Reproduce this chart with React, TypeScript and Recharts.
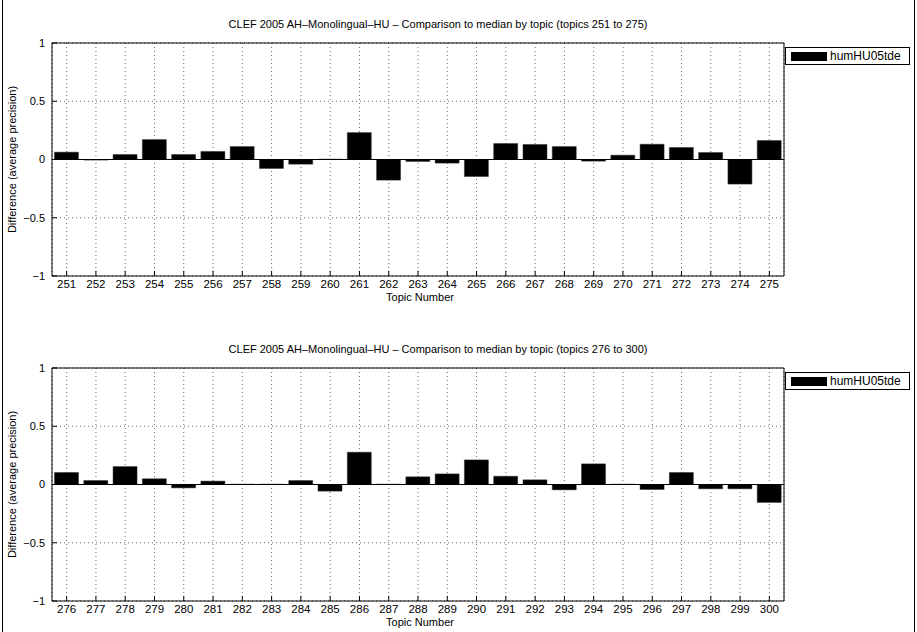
import { BarChart, Bar, XAxis, YAxis, CartesianGrid, ReferenceLine } from 'recharts'

const topicsA = ['251', '252', '253', '254', '255', '256', '257', '258', '259', '260', '261', '262', '263', '264', '265', '266', '267', '268', '269', '270', '271', '272', '273', '274', '275']
const diffA = [0.063, -0.005, 0.043, 0.171, 0.043, 0.069, 0.111, -0.077, -0.04, 0.003, 0.231, -0.177, -0.017, -0.031, -0.146, 0.137, 0.129, 0.111, -0.014, 0.037, 0.131, 0.103, 0.06, -0.211, 0.163]

const topicsB = ['276', '277', '278', '279', '280', '281', '282', '283', '284', '285', '286', '287', '288', '289', '290', '291', '292', '293', '294', '295', '296', '297', '298', '299', '300']
const diffB = [0.103, 0.034, 0.154, 0.049, -0.029, 0.029, 0.003, 0.003, 0.034, -0.057, 0.277, 0.003, 0.066, 0.091, 0.211, 0.071, 0.04, -0.046, 0.177, 0.003, -0.043, 0.103, -0.037, -0.037, -0.154]

const yTicks = [-1, -0.5, 0, 0.5, 1]
const runName = 'humHU05tde'
const titleA = 'CLEF 2005 AH\u2013Monolingual\u2013HU \u2013 Comparison to median by topic (topics 251 to 275)'
const titleB = 'CLEF 2005 AH\u2013Monolingual\u2013HU \u2013 Comparison to median by topic (topics 276 to 300)'

const FONT = '"Liberation Sans", Arial, Helvetica, sans-serif'

const fmtY = (v: number) => (v < 0 ? '\u2212' + Math.abs(v) : String(v))

interface PanelProps {
  topics: string[]
  values: number[]
  title: string
  top: number
  marginTop: number
  marginBottom: number
}

function Panel({ topics, values, title, top, marginTop, marginBottom }: PanelProps) {
  const data = topics.map((t, i) => ({ topic: t, diff: values[i] }))
  const plotTop = marginTop
  const plotBottom = 316 - marginBottom - 25
  const midY = (plotTop + plotBottom) / 2

  return (
    <div style={{ position: 'absolute', left: 0, top }}>
      <BarChart
        width={917}
        height={316}
        data={data}
        margin={{ top: marginTop, right: 133, bottom: marginBottom, left: 12 }}
        barCategoryGap="8.5%"
      >
        <CartesianGrid stroke="#000" strokeDasharray="1 3" strokeWidth={0.6} />
        <XAxis
          dataKey="topic"
          height={25}
          stroke="#000"
          tickSize={-5}
          tickMargin={9}
          interval={0}
          tick={{ fill: '#000', fontSize: 11.5, fontFamily: FONT }}
        />
        <XAxis xAxisId="t" dataKey="topic" orientation="top" height={0.01} mirror tick={false} tickSize={5} stroke="#000" interval={0} />
        <YAxis
          width={40}
          domain={[-1, 1]}
          ticks={yTicks}
          stroke="#000"
          tickSize={-5}
          tickMargin={12}
          tickFormatter={fmtY}
          tick={{ fill: '#000', fontSize: 11, fontFamily: FONT }}
        />
        <YAxis yAxisId="r" orientation="right" width={0.01} mirror domain={[-1, 1]} ticks={yTicks} tick={false} tickSize={5} stroke="#000" />
        <Bar dataKey="diff" fill="#000" stroke="#333" strokeWidth={0.5} isAnimationActive={false} />
        <ReferenceLine y={0} stroke="#000" strokeWidth={1} />
        <text x={438} y={plotTop - 15} textAnchor="middle" fontSize={11} fontFamily={FONT} fill="#000">
          {title}
        </text>
        <text
          x={16}
          y={midY}
          transform={`rotate(-90 16 ${midY})`}
          textAnchor="middle"
          fontSize={11}
          fontFamily={FONT}
          fill="#000"
        >
          Difference (average precision)
        </text>
        <text x={420} y={plotBottom + 25} textAnchor="middle" fontSize={11} fontFamily={FONT} fill="#000">
          Topic Number
        </text>
        <rect x={785.5} y={plotTop + 4.5} width={124} height={17} fill="#fff" stroke="#000" strokeWidth={1} />
        <rect x={791} y={plotTop + 9} width={36} height={9} fill="#000" />
        <text x={830} y={plotTop + 17} fontSize={12} fontFamily={FONT} fill="#000">
          {runName}
        </text>
      </BarChart>
    </div>
  )
}

export default function App() {
  return (
    <div
      style={{
        position: 'absolute',
        left: 0,
        top: 0,
        width: 917,
        height: 632,
        background: '#fff',
        overflow: 'hidden',
      }}
    >
      <div
        style={{
          position: 'absolute',
          left: 2,
          top: 0,
          width: 913,
          height: 632,
          borderLeft: '1px solid #000',
          borderRight: '1px solid #000',
          boxSizing: 'border-box',
        }}
      />
      <Panel topics={topicsA} values={diffA} title={titleA} top={-1} marginTop={44} marginBottom={14} />
      <Panel topics={topicsB} values={diffB} title={titleB} top={315} marginTop={53} marginBottom={5} />
    </div>
  )
}
